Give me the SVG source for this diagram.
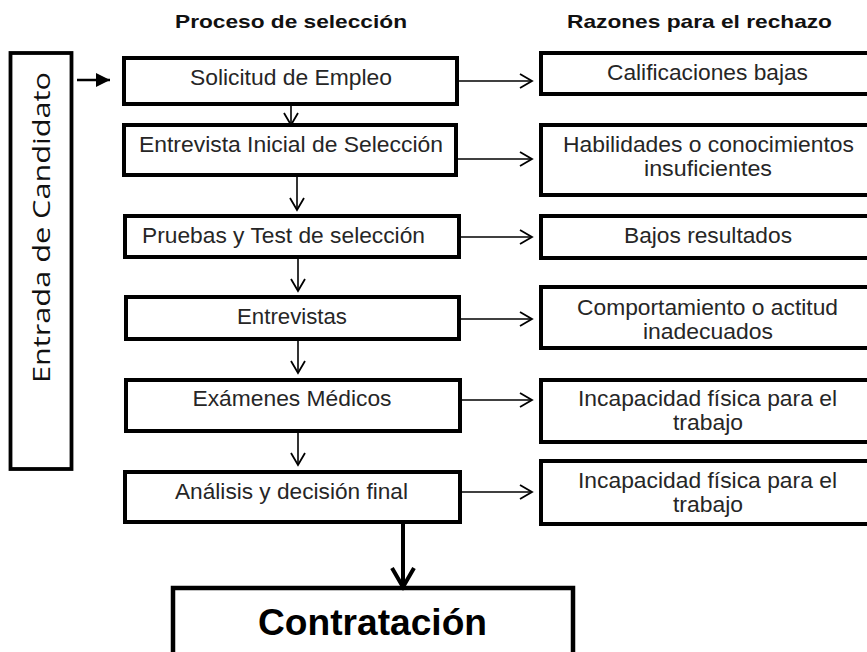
<svg xmlns="http://www.w3.org/2000/svg" width="867" height="652" viewBox="0 0 867 652">
<style>
.box{fill:#fff;stroke:#000;stroke-width:4}
.t{font-family:"Liberation Sans",Arial,sans-serif;font-size:22px;fill:#262626;text-anchor:middle}
.h{font-family:"Liberation Sans",Arial,sans-serif;font-size:19px;font-weight:bold;fill:#111;text-anchor:middle}
.c{stroke:#000;stroke-width:1.6;fill:none}
</style>
<defs>
<marker id="open" markerUnits="userSpaceOnUse" markerWidth="16" markerHeight="20" refX="13" refY="8" orient="auto" viewBox="0 0 16 16">
<path d="M1,1 L13,8 L1,15" fill="none" stroke="#000" stroke-width="1.8"/>
</marker>
<marker id="thick" markerUnits="userSpaceOnUse" markerWidth="26" markerHeight="28" refX="21" refY="12" orient="auto" viewBox="0 0 26 24">
<path d="M2,1 L21,12 L2,23" fill="none" stroke="#000" stroke-width="4"/>
</marker>
<marker id="solid" markerUnits="userSpaceOnUse" markerWidth="16" markerHeight="16" refX="14" refY="7" orient="auto" viewBox="0 0 16 14">
<path d="M0,0 L14,7 L0,14 Z" fill="#000"/>
</marker>
</defs>
<rect width="867" height="652" fill="#fff"/>

<text class="h" x="291" y="28" textLength="232" lengthAdjust="spacingAndGlyphs">Proceso de selección</text>
<text class="h" x="699.5" y="28" textLength="265" lengthAdjust="spacingAndGlyphs">Razones para el rechazo</text>

<g id="entrada">
<rect x="10.5" y="53" width="61" height="416" fill="#fff" stroke="#000" stroke-width="3.8"/>
<text transform="translate(50,227.5) rotate(-90)" x="0" y="0" font-family="'Open Sans','Noto Sans',sans-serif" font-size="23" fill="#111" text-anchor="middle" textLength="311" lengthAdjust="spacingAndGlyphs">Entrada de Candidato</text>
</g>

<g id="solicitud">
<rect class="box" x="124" y="58" width="333" height="46"/>
<text class="t" x="291" y="85" textLength="202" lengthAdjust="spacingAndGlyphs">Solicitud de Empleo</text>
</g>
<g id="entrevista-inicial">
<rect class="box" x="124" y="125" width="332" height="50"/>
<text class="t" x="291" y="152" textLength="304" lengthAdjust="spacingAndGlyphs">Entrevista Inicial de Selección</text>
</g>
<g id="pruebas">
<rect class="box" x="125" y="216" width="334" height="41"/>
<text class="t" x="283.5" y="243" textLength="283" lengthAdjust="spacingAndGlyphs">Pruebas y Test de selección</text>
</g>
<g id="entrevistas">
<rect class="box" x="126" y="297" width="333" height="42"/>
<text class="t" x="292" y="324" textLength="110" lengthAdjust="spacingAndGlyphs">Entrevistas</text>
</g>
<g id="examenes">
<rect class="box" x="126" y="380" width="334" height="51"/>
<text class="t" x="292" y="406" textLength="199" lengthAdjust="spacingAndGlyphs">Exámenes Médicos</text>
</g>
<g id="analisis">
<rect class="box" x="125" y="472" width="335" height="50"/>
<text class="t" x="291.5" y="499" textLength="233" lengthAdjust="spacingAndGlyphs">Análisis y decisión final</text>
</g>
<g id="contratacion">
<rect x="173" y="588" width="400" height="80" fill="#fff" stroke="#000" stroke-width="4.5"/>
<text x="372.5" y="635" font-family="'Liberation Sans',Arial,sans-serif" font-size="37" font-weight="bold" fill="#000" text-anchor="middle" textLength="229" lengthAdjust="spacingAndGlyphs">Contratación</text>
</g>

<g id="r1">
<rect class="box" x="541" y="53" width="340" height="41"/>
<text class="t" x="707.5" y="80" textLength="201" lengthAdjust="spacingAndGlyphs">Calificaciones bajas</text>
</g>
<g id="r2">
<rect class="box" x="541" y="125" width="340" height="70"/>
<text class="t" x="708.5" y="152" textLength="291" lengthAdjust="spacingAndGlyphs">Habilidades o conocimientos</text>
<text class="t" x="708" y="176" textLength="128" lengthAdjust="spacingAndGlyphs">insuficientes</text>
</g>
<g id="r3">
<rect class="box" x="541" y="216" width="340" height="42"/>
<text class="t" x="708" y="243" textLength="168" lengthAdjust="spacingAndGlyphs">Bajos resultados</text>
</g>
<g id="r4">
<rect class="box" x="541" y="287" width="340" height="61"/>
<text class="t" x="707.5" y="315" textLength="261" lengthAdjust="spacingAndGlyphs">Comportamiento o actitud</text>
<text class="t" x="708" y="339" textLength="130" lengthAdjust="spacingAndGlyphs">inadecuados</text>
</g>
<g id="r5">
<rect class="box" x="541" y="380" width="340" height="62"/>
<text class="t" x="707.5" y="406" textLength="259" lengthAdjust="spacingAndGlyphs">Incapacidad física para el</text>
<text class="t" x="708" y="430" textLength="70" lengthAdjust="spacingAndGlyphs">trabajo</text>
</g>
<g id="r6">
<rect class="box" x="541" y="461" width="340" height="63"/>
<text class="t" x="707.5" y="488" textLength="259" lengthAdjust="spacingAndGlyphs">Incapacidad física para el</text>
<text class="t" x="708" y="512" textLength="70" lengthAdjust="spacingAndGlyphs">trabajo</text>
</g>

<g id="connectors">
<line x1="77" y1="80" x2="110" y2="80" stroke="#000" stroke-width="2.5" marker-end="url(#solid)"/>
<line class="c" x1="291" y1="106" x2="291" y2="125" marker-end="url(#open)"/>
<line class="c" x1="297" y1="177" x2="297" y2="210" marker-end="url(#open)"/>
<line class="c" x1="298" y1="259" x2="298" y2="291" marker-end="url(#open)"/>
<line class="c" x1="298" y1="341" x2="298" y2="373" marker-end="url(#open)"/>
<line class="c" x1="298" y1="433" x2="298" y2="465" marker-end="url(#open)"/>
<line x1="403" y1="524" x2="403" y2="587" stroke="#000" stroke-width="4" marker-end="url(#thick)"/>
<line class="c" x1="459" y1="81" x2="532" y2="81" marker-end="url(#open)"/>
<line class="c" x1="458" y1="159" x2="532" y2="159" marker-end="url(#open)"/>
<line class="c" x1="461" y1="237" x2="532" y2="237" marker-end="url(#open)"/>
<line class="c" x1="461" y1="319" x2="532" y2="319" marker-end="url(#open)"/>
<line class="c" x1="462" y1="400" x2="532" y2="400" marker-end="url(#open)"/>
<line class="c" x1="462" y1="492" x2="532" y2="492" marker-end="url(#open)"/>
</g>
</svg>
